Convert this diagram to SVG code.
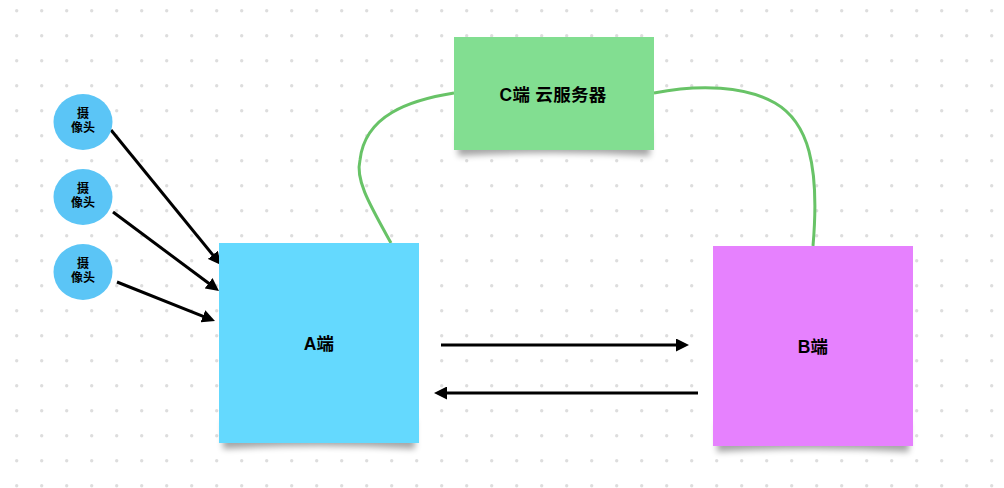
<svg xmlns="http://www.w3.org/2000/svg" width="1004" height="488" viewBox="0 0 1004 488">
<defs>
<pattern id="dots" width="25" height="25" patternUnits="userSpaceOnUse">
<circle cx="16.7" cy="10.7" r="1.7" fill="#dddddd"/>
</pattern>
<filter id="blur" x="-20%" y="-50%" width="140%" height="200%">
<feGaussianBlur stdDeviation="3"/>
</filter>
<marker id="arrow" viewBox="0 0 13 13" markerWidth="13" markerHeight="13" refX="3" refY="6.5" orient="auto" markerUnits="userSpaceOnUse">
<path d="M0,0 L13,6.5 L0,13 Z" fill="#000"/>
</marker>
<style>
.lbl{font-family:"Liberation Sans","Noto Sans CJK SC",sans-serif;font-weight:bold;fill:#000;text-anchor:middle}
.big{font-size:17.5px;letter-spacing:0.3px}
.small{font-size:12px}
.shadow{fill:#000;opacity:0.35;filter:url(#blur)}
.arr{fill:none;stroke:#000;stroke-width:3;marker-end:url(#arrow)}
.link{fill:none;stroke:#68c367;stroke-width:3}
.cam{fill:#5bc5f6}
</style>
</defs>
<rect width="1004" height="488" fill="#ffffff"/>
<rect width="1004" height="488" fill="url(#dots)"/>

<g id="connectors">
<path class="link" d="M391,243 C370,205 355,180 360,160 C365,115 410,100 454,93"/>
<path class="link" d="M654,93 C700,84 745,86 775,103 C808,122 820,165 813,246"/>
<path class="arr" d="M111,130 L214.7,257.2"/>
<path class="arr" d="M113,212 L211,285"/>
<path class="arr" d="M117,282 L205.7,317.3"/>
<path class="arr" d="M441,345 L679,345"/>
<path class="arr" d="M698,393 L444,393"/>
</g>

<g id="nodeC">
<path class="shadow" d="M458,130 H650 V156 Q554,150 458,156 Z"/>
<rect x="454" y="37" width="200" height="113" fill="#82de91"/>
<text class="lbl big" x="553" y="101">C端 云服务器</text>
</g>

<g id="nodeA">
<path class="shadow" d="M223,420 H415 V449 Q319,443 223,449 Z"/>
<rect x="219" y="243" width="200" height="200" fill="#64d9fe"/>
<text class="lbl big" x="319" y="350">A端</text>
</g>

<g id="nodeB">
<path class="shadow" d="M717,423 H909 V452 Q813,446 717,452 Z"/>
<rect x="713" y="246" width="200" height="200" fill="#e681fe"/>
<text class="lbl big" x="813" y="353">B端</text>
</g>

<g id="cam1">
<ellipse class="cam" cx="83" cy="122" rx="29.5" ry="28"/>
<text class="lbl small" x="83" y="118">摄</text>
<text class="lbl small" x="83" y="131.5">像头</text>
</g>
<g id="cam2">
<ellipse class="cam" cx="83" cy="197" rx="29.5" ry="28"/>
<text class="lbl small" x="83" y="193">摄</text>
<text class="lbl small" x="83" y="206.5">像头</text>
</g>
<g id="cam3">
<ellipse class="cam" cx="83" cy="272" rx="29.5" ry="28"/>
<text class="lbl small" x="83" y="268">摄</text>
<text class="lbl small" x="83" y="281.5">像头</text>
</g>
</svg>
